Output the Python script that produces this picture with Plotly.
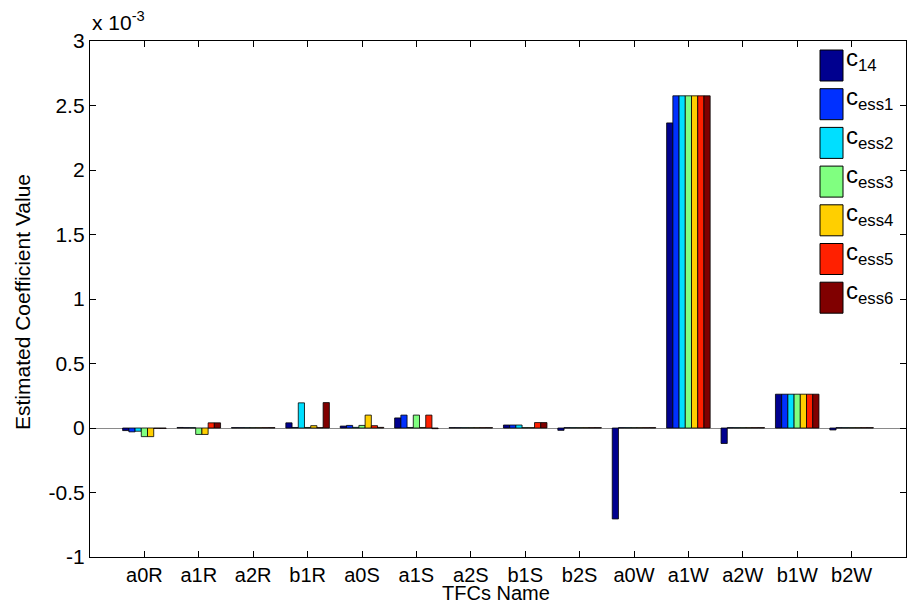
import plotly.graph_objects as go

# Values in units of 1e-3 (axis shows "x 10^-3")
categories = ["a0R", "a1R", "a2R", "b1R", "a0S", "a1S", "a2S",
              "b1S", "b2S", "a0W", "a1W", "a2W", "b1W", "b2W"]

c14   = [-0.020, 0.004, 0.003, 0.040, 0.015, 0.078, 0.003, 0.023, -0.018, -0.705, 2.365, -0.120, 0.262, -0.015]
cess1 = [-0.030, 0.003, 0.003, 0.004, 0.020, 0.100, 0.003, 0.023, 0.003, 0.003, 2.575, 0.003, 0.262, 0.003]
cess2 = [-0.025, 0.003, 0.003, 0.195, 0.005, 0.004, 0.003, 0.023, 0.003, 0.003, 2.575, 0.003, 0.262, 0.003]
cess3 = [-0.067, -0.050, 0.003, 0.004, 0.020, 0.100, 0.003, 0.003, 0.003, 0.003, 2.575, 0.003, 0.262, 0.003]
cess4 = [-0.067, -0.050, 0.003, 0.018, 0.100, 0.004, 0.003, 0.003, 0.003, 0.003, 2.575, 0.003, 0.262, 0.003]
cess5 = [-0.003, 0.040, 0.003, 0.003, 0.018, 0.100, 0.003, 0.042, 0.003, 0.003, 2.575, 0.003, 0.262, 0.003]
cess6 = [-0.003, 0.040, 0.003, 0.197, 0.005, -0.005, 0.003, 0.042, 0.003, 0.003, 2.575, 0.003, 0.262, 0.003]

series_names = ["c<sub>14</sub>", "c<sub>ess1</sub>", "c<sub>ess2</sub>", "c<sub>ess3</sub>",
                "c<sub>ess4</sub>", "c<sub>ess5</sub>", "c<sub>ess6</sub>"]
series_values = [c14, cess1, cess2, cess3, cess4, cess5, cess6]
colors = ["#00008F", "#0030FF", "#00DFFF", "#80FF80", "#FFCF00", "#FF2000", "#800000"]

y_ticks = [-1, -0.5, 0, 0.5, 1, 1.5, 2, 2.5, 3]
y_ticktext = ["-1", "-0.5", "0", "0.5", "1", "1.5", "2", "2.5", "3"]

FONT = "Liberation Sans, Arial, Helvetica, sans-serif"
W, H = 909, 604
ML, MR, MT, MB = 90, 3, 41, 47
PW, PH = W - ML - MR, H - MT - MB

fig = go.Figure()
for name, vals, col in zip(series_names, series_values, colors):
    fig.add_trace(go.Bar(
        x=categories, y=vals, name=name, showlegend=False,
        marker=dict(color=col, line=dict(color="black", width=0.8)),
    ))

def px(x):
    return (x - ML) / PW

def py(y):
    return (H - MB - y) / PH

shapes = []
annotations = []

# Custom legend (tall swatches like MATLAB)
sw_x0, sw_x1 = 820, 843
top0, sw_h, step = 50, 31, 38.7
for i, (name, col) in enumerate(zip(series_names, colors)):
    t = top0 + i * step
    shapes.append(dict(type="rect", xref="paper", yref="paper",
                       x0=px(sw_x0), x1=px(sw_x1), y0=py(t + sw_h), y1=py(t),
                       fillcolor=col, line=dict(color="black", width=1)))
    annotations.append(dict(xref="paper", yref="paper", x=px(844), y=py(t + 10),
                            text=name, showarrow=False, xanchor="left", yanchor="middle",
                            font=dict(family=FONT, size=24, color="black")))

annotations.append(dict(xref="paper", yref="paper", x=px(90), y=py(36),
                        text="x 10<sup>-3</sup>", showarrow=False,
                        xanchor="left", yanchor="bottom",
                        font=dict(family=FONT, size=21, color="black")))
annotations.append(dict(xref="paper", yref="paper", x=px(496), y=py(593),
                        text="TFCs Name", showarrow=False,
                        xanchor="center", yanchor="middle",
                        font=dict(family=FONT, size=20, color="black")))
annotations.append(dict(xref="paper", yref="paper", x=px(22), y=py(302),
                        text="Estimated Coefficient Value", showarrow=False, textangle=-90,
                        xanchor="center", yanchor="middle",
                        font=dict(family=FONT, size=21, color="black")))

fig.update_layout(
    width=W, height=H,
    margin=dict(l=ML, r=MR, t=MT, b=MB),
    paper_bgcolor="white", plot_bgcolor="white",
    barmode="group", bargap=0.2, bargroupgap=0,
    font=dict(family=FONT, size=20, color="black"),
    shapes=shapes, annotations=annotations,
    xaxis=dict(
        type="category", range=[-1, 14],
        showline=True, linecolor="black", linewidth=1.3, mirror="allticks",
        ticks="inside", ticklen=6, tickcolor="black",
        tickfont=dict(family=FONT, size=20),
        showgrid=False, zeroline=False,
    ),
    yaxis=dict(
        range=[-1, 3], tickvals=y_ticks, ticktext=y_ticktext,
        showline=True, linecolor="black", linewidth=1.3, mirror="allticks",
        ticks="inside", ticklen=6, tickcolor="black",
        tickfont=dict(family=FONT, size=21),
        showgrid=False, zeroline=True, zerolinecolor="#8a8a8a", zerolinewidth=1.2,
    ),
)

fig.write_html("out.html", config={"displayModeBar": False},
               post_script="document.body.style.margin='0';")
